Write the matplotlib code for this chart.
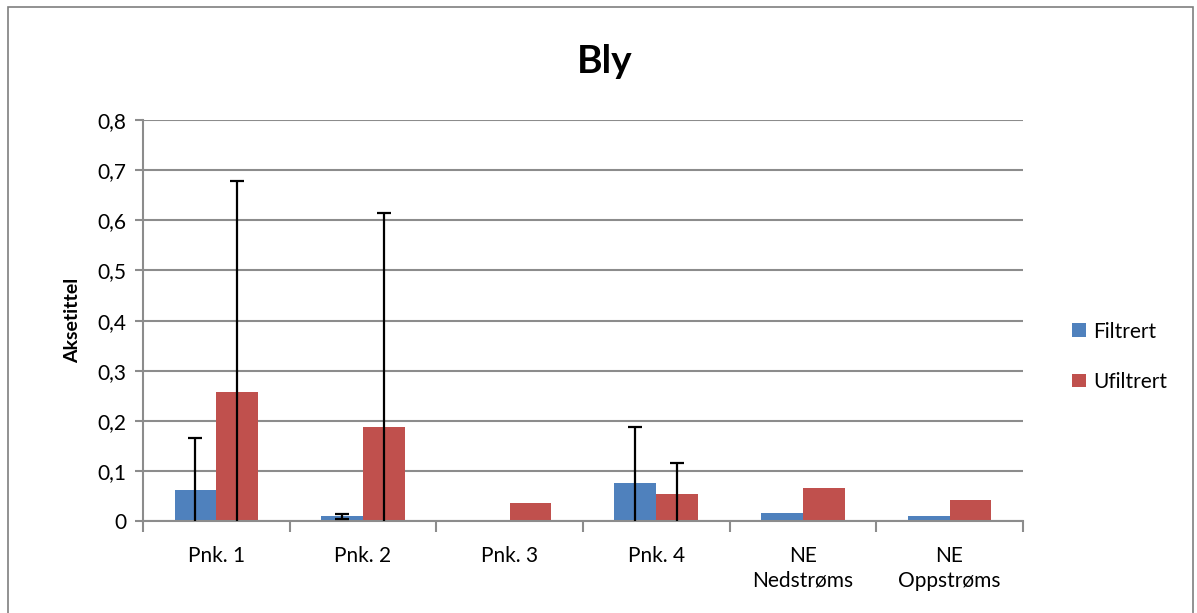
import matplotlib.pyplot as plt
import numpy as np
from matplotlib.patches import Rectangle

plt.rcParams['font.family'] = ['Lato', 'DejaVu Sans']

# data
steder = ['Pnk. 1', 'Pnk. 2', 'Pnk. 3', 'Pnk. 4', 'NE\nNedstrøms', 'NE\nOppstrøms']
filtrert = [0.062, 0.010, 0.001, 0.076, 0.016, 0.011]
ufiltrert = [0.258, 0.187, 0.036, 0.054, 0.065, 0.043]
filtrert_err = [0.104, 0.005, np.nan, 0.112, np.nan, np.nan]
ufiltrert_err = [0.420, 0.428, np.nan, 0.062, np.nan, np.nan]

blue = '#4F81BD'
red = '#C0504D'
gridc = '#8C8C8C'

fig = plt.figure(figsize=(11.97, 6.13), dpi=100)
ax = fig.add_axes([0.1195, 0.150, 0.735, 0.654])

# outer chart border
fig.patches.append(Rectangle((0.007, -0.01), 0.99, 0.998, transform=fig.transFigure,
                             fill=False, edgecolor='#7F7F7F', linewidth=1.2))

x = np.arange(len(steder))
w = 0.285
ax.bar(x - w / 2, filtrert, w, color=blue, label='Filtrert', zorder=2)
ax.bar(x + w / 2, ufiltrert, w, color=red, label='Ufiltrert', zorder=2)
ax.errorbar(x - w / 2, filtrert, yerr=filtrert_err, fmt='none', ecolor='black',
            elinewidth=1.6, capsize=5, capthick=1.6, zorder=3)
ax.errorbar(x + w / 2, ufiltrert, yerr=ufiltrert_err, fmt='none', ecolor='black',
            elinewidth=1.6, capsize=5, capthick=1.6, zorder=3)

ax.set_xlim(-0.5, len(steder) - 0.5)
ax.set_ylim(0, 0.8)
yt = np.arange(0, 0.81, 0.1)
ax.set_yticks(yt)
ax.set_yticklabels(['0'] + [('%.1f' % v).replace('.', ',') for v in yt[1:]])
ax.yaxis.grid(True, color=gridc, linewidth=1.5, zorder=0)
ax.set_axisbelow(True)

# category labels in the middle, ticks on the boundaries
ax.set_xticks(x)
ax.set_xticklabels(steder, fontsize=15, linespacing=1.3)
ax.tick_params(axis='x', length=0, pad=18)
ax.set_xticks(np.arange(-0.5, len(steder)), minor=True)
ax.tick_params(axis='x', which='minor', length=8, color=gridc, width=1.5)
ax.tick_params(axis='y', labelsize=15, length=6, color=gridc, width=1.5, pad=6)

for s in ['top', 'right']:
    ax.spines[s].set_visible(False)
ax.spines['left'].set_color(gridc)
ax.spines['bottom'].set_color(gridc)
ax.spines['left'].set_linewidth(1.5)
ax.spines['bottom'].set_linewidth(1.5)

ax.set_ylabel('Aksetittel', fontsize=14, fontweight='bold', labelpad=12)
fig.text(0.505, 0.9, 'Bly', fontsize=28, fontweight='bold', ha='center', va='center')

ax.legend(loc='center left', bbox_to_anchor=(1.035, 0.41), frameon=False, fontsize=15,
          handlelength=0.65, handleheight=0.65, handletextpad=0.35, labelspacing=1.45)

fig.savefig('out.png', dpi=100)
